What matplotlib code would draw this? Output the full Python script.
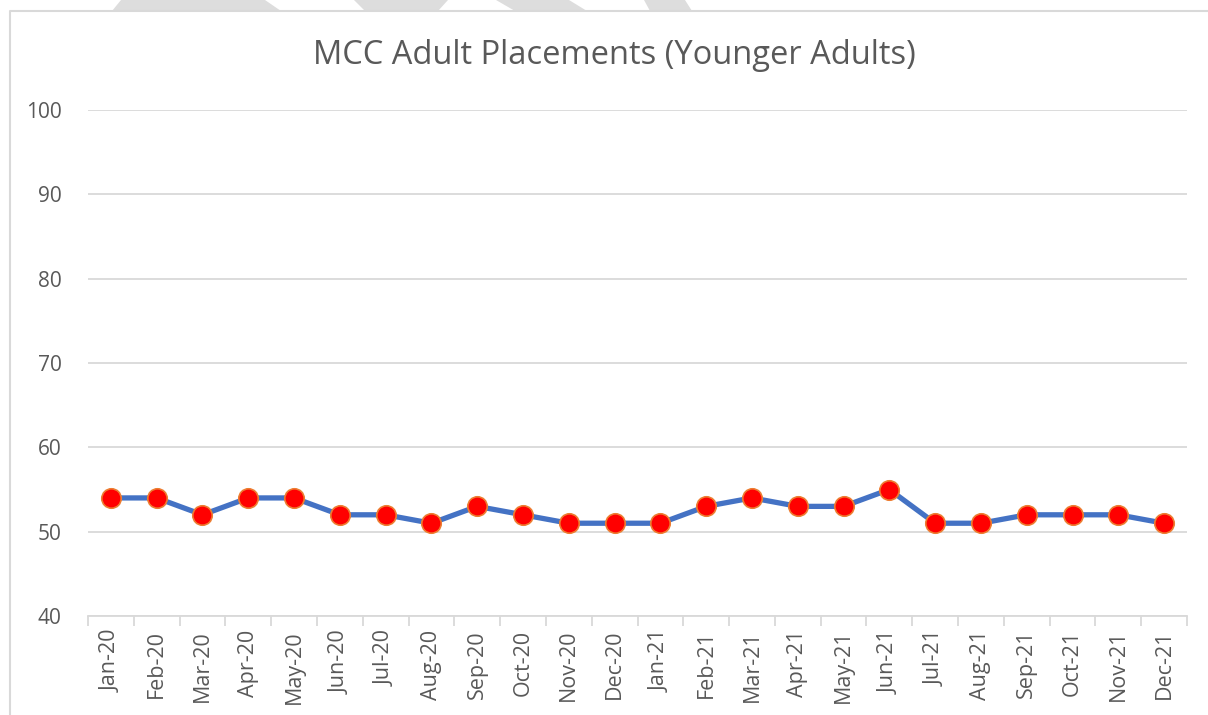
import matplotlib
matplotlib.use("Agg")
from matplotlib import pyplot as plt
from matplotlib.patches import Polygon
from matplotlib.lines import Line2D
import numpy as np

months = ["Jan-20", "Feb-20", "Mar-20", "Apr-20", "May-20", "Jun-20",
          "Jul-20", "Aug-20", "Sep-20", "Oct-20", "Nov-20", "Dec-20",
          "Jan-21", "Feb-21", "Mar-21", "Apr-21", "May-21", "Jun-21",
          "Jul-21", "Aug-21", "Sep-21", "Oct-21", "Nov-21", "Dec-21"]
placements = [54, 54, 52, 54, 54, 52, 52, 51, 53, 52, 51, 51,
              51, 53, 54, 53, 53, 55, 51, 51, 52, 52, 52, 51]
y_ticks = [40, 50, 60, 70, 80, 90, 100]

W, H = 1208, 715
plt.rcParams["font.family"] = ["Open Sans", "DejaVu Sans"]

fig = plt.figure(figsize=(W / 100, H / 100), dpi=100)


def px(x, y):
    # pixel coords (top-left origin) -> figure fraction
    return (x / W, 1 - y / H)


# faint grey watermark bits peeking above the chart frame
for shape in [[(112, 11), (121, 0), (265, 0), (281, 11)],
              [(354, 0), (365, 11), (438, 11), (448, 0)],
              [(496, 0), (515, 11), (587, 11), (569, 0)],
              [(644, 0), (650, 11), (692, 11), (685, 0)]]:
    fig.patches.append(Polygon([px(*p) for p in shape], closed=True,
                               transform=fig.transFigure, facecolor="#DDDDDD",
                               edgecolor="none", zorder=0))

# chart frame (left + top edges visible)
fig.lines.append(Line2D([px(10, 0)[0], px(10, 0)[0], 1], [0, px(0, 11)[1], px(0, 11)[1]],
                        transform=fig.transFigure, color="#D9D9D9", lw=1.5))

ax = fig.add_axes([88 / W, 1 - 616 / H, (1187 - 88) / W, (616 - 110) / H])

x = np.arange(len(months))
ax.plot(x, placements, color="#4472C4", lw=3.8, marker="o", markersize=14,
        markerfacecolor="#FF0000", markeredgecolor="#ED7D31", markeredgewidth=1.2,
        zorder=3)

ax.set_xlim(-0.5, len(months) - 0.5)
ax.set_ylim(40, 100)
ax.set_yticks(y_ticks)
ax.set_xticks(x)
ax.set_xticklabels(months, rotation=90)
ax.set_xticks(np.arange(-0.5, len(months)), minor=True)

ax.grid(axis="y", color="#D9D9D9", lw=1.3)
ax.set_axisbelow(True)
for side in ["top", "right", "left"]:
    ax.spines[side].set_visible(False)
ax.spines["bottom"].set_color("#D9D9D9")
ax.spines["bottom"].set_linewidth(1.3)

ax.tick_params(axis="y", length=0, pad=19, labelsize=15, labelcolor="#595959")
ax.tick_params(axis="x", which="major", length=0, pad=10, labelsize=15.5,
               labelcolor="#595959")
ax.tick_params(axis="x", which="minor", length=7, width=1.3, color="#D9D9D9")

fig.text(px(614, 0)[0], px(0, 56)[1], "MCC Adult Placements (Younger Adults)",
         ha="center", va="center", fontsize=23.5, color="#595959")

fig.savefig("out.png", dpi=100)
